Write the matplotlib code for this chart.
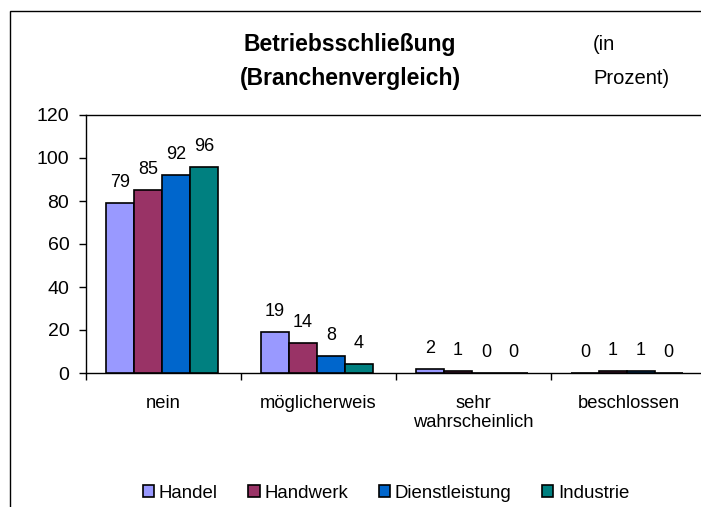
import numpy as np
import matplotlib
matplotlib.use('agg')
import matplotlib.pyplot as plt
from matplotlib.patches import Rectangle

plt.rcParams['font.family'] = ['Liberation Sans', 'DejaVu Sans']

# data
categories = ['nein', 'möglicherweis', 'sehr\nwahrscheinlich', 'beschlossen']
series = ['Handel', 'Handwerk', 'Dienstleistung', 'Industrie']
values = {
    'Handel': [79, 19, 2, 0],
    'Handwerk': [85, 14, 1, 1],
    'Dienstleistung': [92, 8, 0, 1],
    'Industrie': [96, 4, 0, 0],
}
labels = {
    'Handel': ['79', '19', '2', '0'],
    'Handwerk': ['85', '14', '1', '1'],
    'Dienstleistung': ['92', '8', '0', '1'],
    'Industrie': ['96', '4', '0', '0'],
}
colors = ['#9999FF', '#993366', '#0066CC', '#008080']

fig = plt.figure(figsize=(7.01, 5.07), dpi=100)
W, H = 701, 507

# outer chart frame (cropped on the right / bottom)
fig.patches.append(Rectangle((10 / W, -0.1), 1.2, (H - 11) / H + 0.1,
                             transform=fig.transFigure, fill=False,
                             edgecolor='black', linewidth=1.0, clip_on=False))

ax = fig.add_axes([86 / W, (H - 373) / H, 620 / W, (373 - 115) / H])

n = len(series)
bw = 0.18
x = np.arange(len(categories))
for i, (name, col) in enumerate(zip(series, colors)):
    xs = x + (i - (n - 1) / 2) * bw - 0.01
    vals = values[name]
    ax.bar(xs, vals, width=bw, color=col, edgecolor='black', linewidth=1.2,
           label=name, zorder=3)
    for xi, v, lab in zip(xs, vals, labels[name]):
        ax.annotate(lab, (xi, v), xytext=(0, 11.5), textcoords='offset points',
                    ha='center', va='baseline', fontsize=13)

ax.set_xlim(-0.5, len(categories) - 0.5)
ax.set_ylim(0, 120)
ax.set_yticks(range(0, 121, 20))
ax.tick_params(axis='y', labelsize=14, length=5, width=1, direction='out', pad=7)

# category labels between boundary ticks
ax.set_xticks(np.arange(len(categories) + 1) - 0.5)
ax.set_xticklabels([])
ax.tick_params(axis='x', length=5, width=1, direction='out')
for xi, cat in zip(x, categories):
    ax.text(xi, -10, cat, ha='center', va='top', fontsize=13.2,
            linespacing=1.2)

for s in ['left', 'bottom', 'top']:
    ax.spines[s].set_color('black')
    ax.spines[s].set_linewidth(1.0)
ax.spines['right'].set_visible(False)

# title
fig.text(350 / W, 1 - 45 / H, 'Betriebsschließung', ha='center', va='center',
         fontsize=16.5, fontweight='bold')
fig.text(350 / W, 1 - 78 / H, '(Branchenvergleich)', ha='center', va='center',
         fontsize=16.5, fontweight='bold')
fig.text(593 / W, 1 - 45 / H, '(in', ha='left', va='center', fontsize=14.5)
fig.text(593 / W, 1 - 78 / H, 'Prozent)', ha='left', va='center', fontsize=14.5)

fig.legend(loc='center', bbox_to_anchor=(386 / W, 1 - 493 / H), ncol=4,
           frameon=False, fontsize=13.4, handlelength=0.6, handleheight=0.6,
           handletextpad=0.25, columnspacing=1.65)

fig.savefig('out.png', dpi=100)
